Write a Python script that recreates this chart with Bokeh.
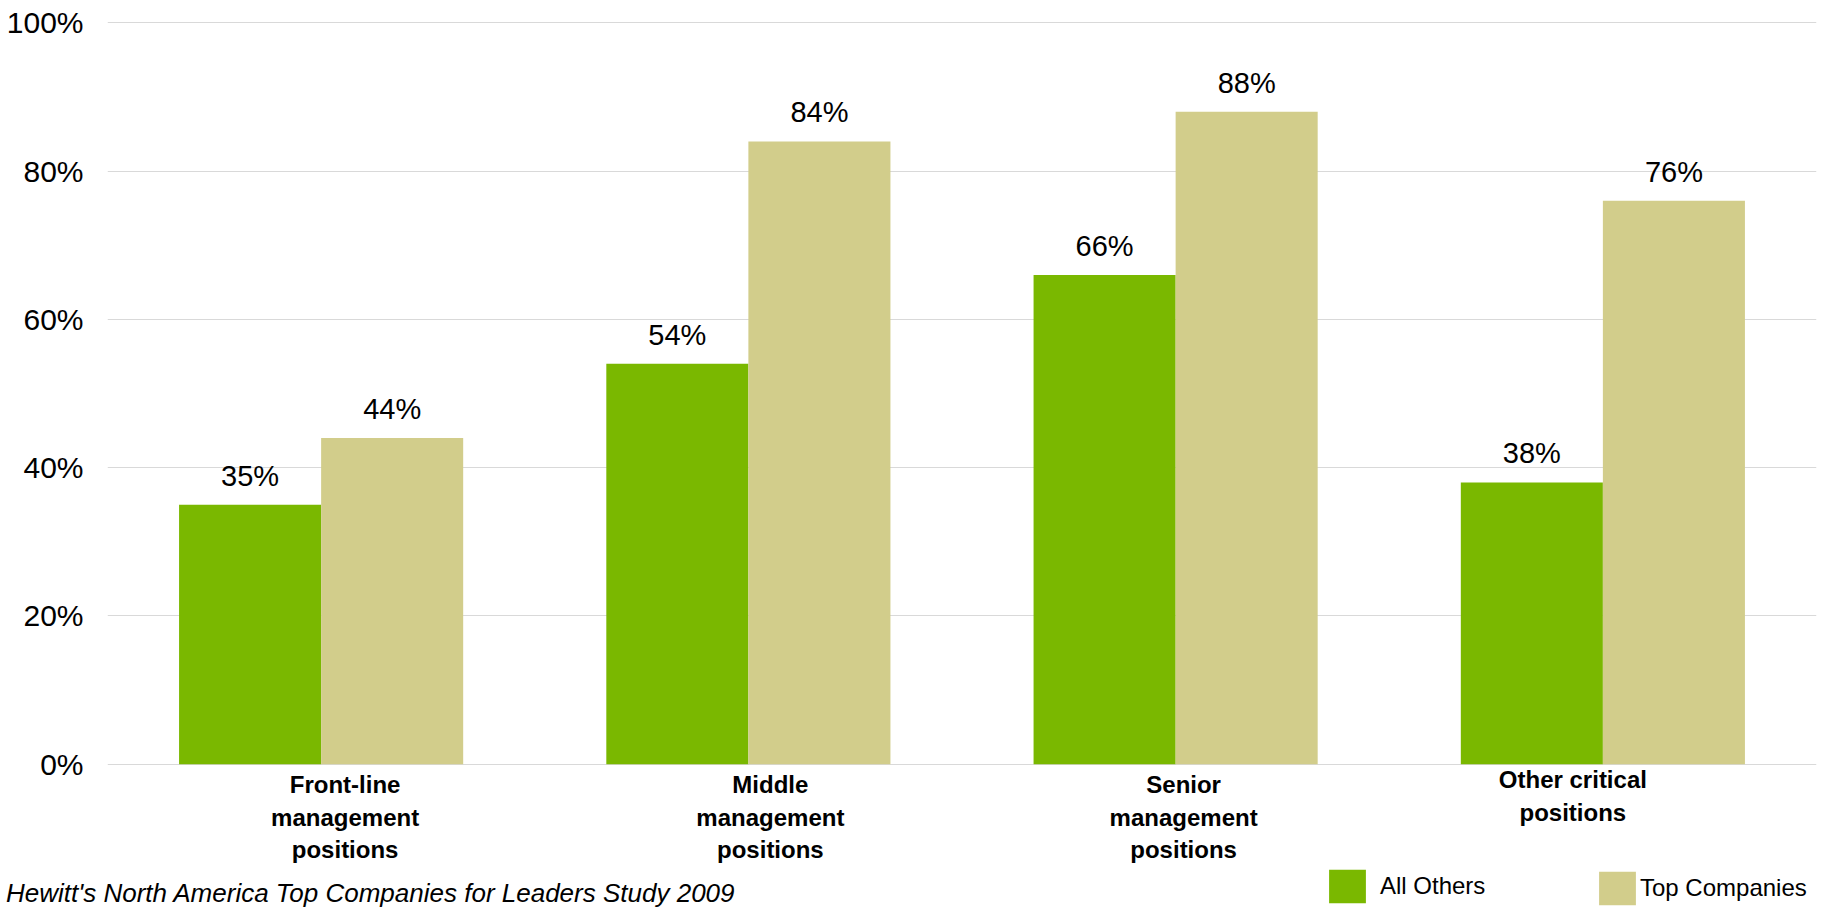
from bokeh.plotting import figure
from bokeh.models import (ColumnDataSource, FactorRange, Range1d, FixedTicker,
                          PrintfTickFormatter, Legend, LegendItem, Div)
from bokeh.layouts import column
from bokeh.transform import dodge
from bokeh.core.properties import value
from bokeh.embed import file_html
from bokeh.resources import INLINE

# ---- data ----
categories = ["Front-line\nmanagement\npositions",
              "Middle\nmanagement\npositions",
              "Senior\nmanagement\npositions",
              "Other critical\npositions"]
all_others = [35, 54, 66, 38]
top_companies = [44, 84, 88, 76]
y_ticks = [0, 20, 40, 60, 80, 100]
series_names = ["All Others", "Top Companies"]
footnote = "Hewitt's North America Top Companies for Leaders Study 2009"

# ---- layout constants ----
caption_dx = [24, 22, 8, -30]   # px shift of category captions
caption_dy = [7, 7, 7, 2]
GREEN = "#7AB800"
TAN = "#D2CD8B"
FONT = "Liberation Sans"

src = ColumnDataSource(dict(
    cat=categories,
    others=all_others,
    top=top_companies,
    others_txt=[f"{v}%" for v in all_others],
    top_txt=[f"{v}%" for v in top_companies],
    dx=caption_dx,
    dy=caption_dy,
    zero=[0] * len(categories),
))

W, H = 1823, 909
p = figure(width=W, height=H, output_backend="svg", toolbar_location=None,
           x_range=FactorRange(factors=categories, range_padding=0),
           y_range=Range1d(-19.60, 103.01),
           x_axis_location=None,
           min_border_left=107, min_border_right=7,
           min_border_top=0, min_border_bottom=0)
p.outline_line_color = None
p.background_fill_color = "white"
p.border_fill_color = "white"
p.xgrid.visible = False

ticker = FixedTicker(ticks=y_ticks)
p.yaxis.ticker = ticker
p.ygrid.ticker = ticker
p.yaxis.formatter = PrintfTickFormatter(format="%d%%")
p.yaxis.axis_line_color = None
p.yaxis.major_tick_line_color = None
p.yaxis.minor_tick_line_color = None
p.yaxis.major_tick_out = 0
p.yaxis.major_tick_in = 0
p.yaxis.major_label_standoff = 24
p.yaxis.major_label_text_font = FONT
p.yaxis.major_label_text_font_size = "30px"
p.yaxis.major_label_text_color = "#000000"
p.ygrid.grid_line_color = "#d9d9d9"
p.ygrid.grid_line_width = 1

BW = 0.3325
r1 = p.vbar(x=dodge("cat", -BW / 2, range=p.x_range), top="others", width=BW,
            source=src, fill_color=GREEN, line_color=None)
r2 = p.vbar(x=dodge("cat", BW / 2, range=p.x_range), top="top", width=BW,
            source=src, fill_color=TAN, line_color=None)

lbl_kw = dict(source=src, text_font=value(FONT), text_font_size="29px",
              text_color="#000000", text_align="center", text_baseline="alphabetic",
              y_offset=-29)
p.text(x=dodge("cat", -BW / 2, range=p.x_range), y="others", text="others_txt", **lbl_kw)
p.text(x=dodge("cat", BW / 2, range=p.x_range), y="top", text="top_txt", **lbl_kw)

# category captions
p.text(x="cat", y="zero", text="cat", source=src, x_offset="dx", y_offset="dy",
       text_font=value(FONT), text_font_style="bold",
       text_font_size="24px", text_line_height=1.2, text_color="#000000",
       text_align="center", text_baseline="top")

# legends
common = dict(orientation="horizontal", glyph_width=46, glyph_height=42, label_height=42,
              padding=0, margin=0, spacing=0, border_line_color=None,
              background_fill_alpha=0, label_text_font=FONT,
              label_text_font_size="24px", label_text_color="#000000")
leg1 = Legend(items=[LegendItem(label=series_names[0], renderers=[r1])],
              location=(1217, 2), label_standoff=10, **common)
leg2 = Legend(items=[LegendItem(label=series_names[1], renderers=[r2])],
              location=(1487, 0), label_standoff=0, **common)
p.add_layout(leg1)
p.add_layout(leg2)

# source note, overlapping the bottom edge of the figure
note = Div(text=footnote, margin=(-31, 0, 0, 6),
           styles={"font-family": "'Liberation Sans', sans-serif", "font-style": "italic",
                   "font-size": "26px", "line-height": "30px", "color": "#000000",
                   "white-space": "nowrap", "position": "relative", "z-index": "10"})

layout = column(p, note, spacing=0)
open("out.html", "w").write(file_html(layout, INLINE))
